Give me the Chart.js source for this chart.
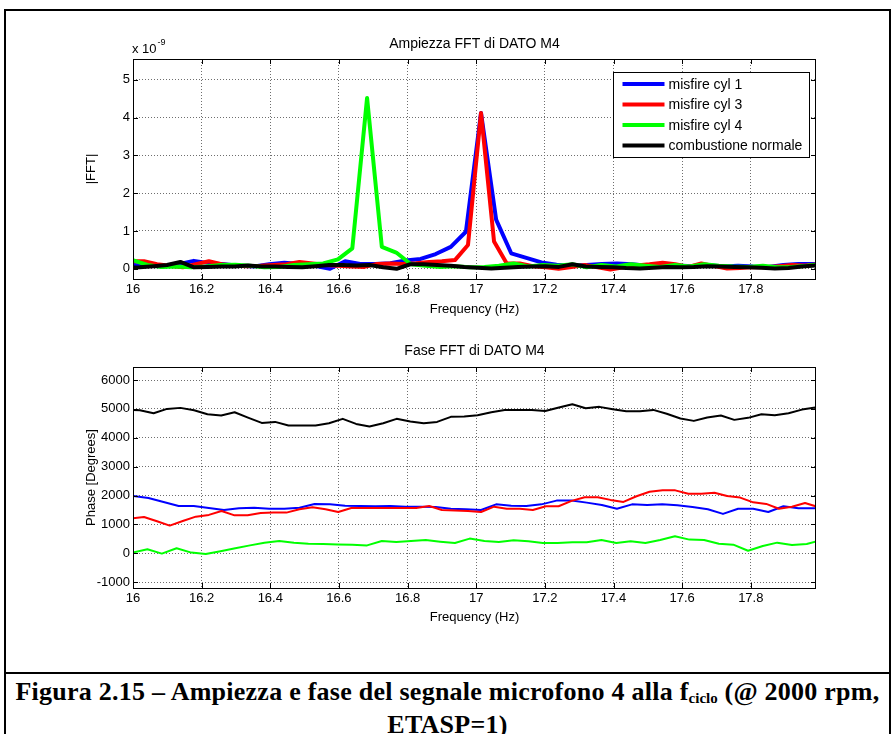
<!DOCTYPE html>
<html>
<head>
<meta charset="utf-8">
<script src="https://cdn.jsdelivr.net/npm/chart.js@4.4.1/dist/chart.umd.min.js"></script>
<style>
  html, body { margin: 0; padding: 0; background: #fff; }
  #page { position: relative; width: 894px; height: 734px; overflow: hidden; background: #fff; }
  #frame { position: absolute; left: 4px; top: 9px; width: 887px; height: 780px; border: 2px solid #000; box-sizing: border-box; }
  #rule { position: absolute; left: 4px; top: 672px; width: 887px; height: 2px; background: #000; }
  canvas { position: absolute; left: 0; }
  #ampChart { top: 0; }
  #phaseChart { top: 320px; }
  #caption {
    position: absolute; left: 6px; width: 883px; top: 675px;
    text-align: center; color: #000; white-space: nowrap;
    font: bold 26px "Liberation Serif", "Times New Roman", serif; line-height: 33px;
    letter-spacing: 0.25px;
  }
  #caption sub { font-size: 15px; line-height: 0; vertical-align: -3px; letter-spacing: 0; }
</style>
</head>
<body>
<div id="page">
  <div id="frame"></div>
  <canvas id="ampChart" width="894" height="320"></canvas>
  <canvas id="phaseChart" width="894" height="310"></canvas>
  <div id="rule"></div>
  <div id="caption">Figura 2.15 – Ampiezza e fase del segnale microfono 4 alla f<sub>ciclo</sub> (@ 2000 rpm,<br>ETASP=1)</div>
</div>
<script>
// FFT bins of each record (Hz) - every record has its own resolution
const freqCyl1 = [16.001, 16.045, 16.089, 16.133, 16.177, 16.221, 16.265, 16.309, 16.353, 16.397,
  16.441, 16.485, 16.529, 16.574, 16.618, 16.662, 16.706, 16.750, 16.794, 16.838,
  16.882, 16.926, 16.970, 17.014, 17.058, 17.102, 17.146, 17.190, 17.234, 17.278,
  17.322, 17.366, 17.410, 17.454, 17.498, 17.542, 17.586, 17.630, 17.675, 17.719,
  17.763, 17.807, 17.851, 17.895, 17.939, 17.983, 18.027];
const freqCyl3 = [15.994, 16.032, 16.070, 16.107, 16.145, 16.183, 16.221, 16.258, 16.296, 16.334,
  16.372, 16.409, 16.447, 16.485, 16.523, 16.561, 16.598, 16.636, 16.674, 16.712,
  16.749, 16.787, 16.825, 16.863, 16.900, 16.938, 16.976, 17.014, 17.052, 17.089,
  17.127, 17.165, 17.203, 17.240, 17.278, 17.316, 17.354, 17.391, 17.429, 17.467,
  17.505, 17.543, 17.580, 17.618, 17.656, 17.694, 17.731, 17.769, 17.807, 17.845,
  17.882, 17.920, 17.958, 17.996, 18.034];
const freqCyl4 = [15.999, 16.042, 16.084, 16.127, 16.170, 16.212, 16.255, 16.298, 16.341, 16.383,
  16.426, 16.469, 16.511, 16.554, 16.597, 16.639, 16.682, 16.725, 16.767, 16.810,
  16.853, 16.895, 16.938, 16.981, 17.024, 17.066, 17.109, 17.152, 17.194, 17.237,
  17.280, 17.322, 17.365, 17.408, 17.450, 17.493, 17.536, 17.579, 17.621, 17.664,
  17.707, 17.749, 17.792, 17.835, 17.877, 17.920, 17.963, 18.005];
const freqNormal = [15.981, 16.020, 16.060, 16.099, 16.138, 16.178, 16.217, 16.257, 16.296, 16.335,
  16.375, 16.414, 16.453, 16.493, 16.532, 16.571, 16.611, 16.650, 16.689, 16.729,
  16.768, 16.808, 16.847, 16.886, 16.926, 16.965, 17.004, 17.044, 17.083, 17.122,
  17.162, 17.201, 17.241, 17.280, 17.319, 17.359, 17.398, 17.437, 17.477, 17.516,
  17.555, 17.595, 17.634, 17.673, 17.713, 17.752, 17.792, 17.831, 17.870, 17.910,
  17.949, 17.988, 18.028];

// |FFT| (x 1e-9)
const ampCyl1 = [0.10, 0.08, 0.06, 0.12, 0.21, 0.15, 0.12, 0.08, 0.06, 0.12,
  0.16, 0.13, 0.08, 0.00, 0.20, 0.13, 0.13, 0.15, 0.22, 0.26,
  0.39, 0.58, 0.98, 4.12, 1.30, 0.41, 0.29, 0.17, 0.11, 0.08,
  0.10, 0.13, 0.14, 0.12, 0.08, 0.06, 0.09, 0.07, 0.10, 0.06,
  0.08, 0.06, 0.05, 0.10, 0.13, 0.13, 0.12];
const ampCyl3 = [0.20, 0.20, 0.12, 0.08, 0.04, 0.12, 0.20, 0.12, 0.08, 0.07,
  0.08, 0.10, 0.12, 0.18, 0.14, 0.10, 0.08, 0.06, 0.05, 0.13,
  0.14, 0.13, 0.15, 0.18, 0.20, 0.23, 0.63, 4.12, 0.72, 0.14,
  0.14, 0.07, 0.04, 0.00, 0.05, 0.10, 0.04, -0.02, 0.04, 0.09,
  0.12, 0.16, 0.12, 0.05, 0.14, 0.07, 0.01, 0.02, 0.05, 0.04,
  0.07, 0.10, 0.09, 0.12, 0.12];
const ampCyl4 = [0.23, 0.10, 0.05, 0.06, 0.04, 0.06, 0.10, 0.11, 0.08, 0.04,
  0.05, 0.10, 0.12, 0.14, 0.25, 0.54, 4.52, 0.58, 0.43, 0.12,
  0.08, 0.05, 0.07, 0.04, 0.05, 0.08, 0.14, 0.06, 0.10, 0.08,
  0.12, 0.04, 0.10, 0.06, 0.12, 0.08, 0.05, 0.10, 0.06, 0.12,
  0.08, 0.06, 0.05, 0.08, 0.04, 0.05, 0.08, 0.12];
const ampNormal = [0.03, 0.04, 0.07, 0.10, 0.18, 0.04, 0.05, 0.06, 0.06, 0.09,
  0.06, 0.06, 0.05, 0.04, 0.07, 0.10, 0.10, 0.09, 0.10, 0.04,
  0.00, 0.12, 0.12, 0.10, 0.08, 0.05, 0.03, 0.01, 0.03, 0.05,
  0.06, 0.07, 0.05, 0.12, 0.06, 0.05, 0.04, 0.02, 0.01, 0.03,
  0.05, 0.04, 0.05, 0.07, 0.06, 0.05, 0.04, 0.03, 0.01, 0.02,
  0.06, 0.09, 0.10];

// phase (degrees, unwrapped)
const phaseCyl1 = [1985, 1915, 1780, 1640, 1640, 1570, 1500, 1560, 1580, 1545,
  1545, 1580, 1710, 1695, 1650, 1640, 1630, 1640, 1615, 1615,
  1605, 1545, 1525, 1500, 1695, 1650, 1640, 1695, 1825, 1825,
  1755, 1675, 1545, 1695, 1675, 1695, 1665, 1605, 1525, 1365,
  1545, 1545, 1430, 1630, 1560, 1560, 1560];
const phaseCyl3 = [1210, 1260, 1110, 960, 1120, 1270, 1330, 1465, 1315, 1315,
  1395, 1410, 1410, 1525, 1595, 1525, 1430, 1570, 1570, 1570,
  1570, 1570, 1570, 1640, 1500, 1480, 1465, 1430, 1615, 1545,
  1545, 1500, 1630, 1630, 1815, 1940, 1940, 1850, 1780, 1975,
  2130, 2180, 2180, 2065, 2065, 2100, 1985, 1930, 1765, 1710,
  1545, 1615, 1745, 1605, 1525];
const phaseCyl4 = [25, 140, -10, 175, 25, -25, 70, 175, 275, 370,
  425, 370, 330, 325, 310, 300, 275, 425, 395, 425,
  460, 405, 360, 510, 425, 395, 450, 415, 360, 360,
  380, 380, 460, 360, 415, 360, 460, 590, 475, 460,
  335, 300, 90, 255, 370, 290, 325, 460];
const phaseNormal = [4970, 4955, 4850, 5000, 5035, 4955, 4815, 4770, 4885, 4700,
  4515, 4550, 4425, 4425, 4425, 4505, 4655, 4480, 4390, 4505,
  4655, 4560, 4505, 4550, 4725, 4735, 4780, 4885, 4965, 4965,
  4965, 4930, 5045, 5160, 5025, 5070, 4990, 4920, 4920, 4965,
  4830, 4665, 4585, 4700, 4770, 4620, 4690, 4815, 4780, 4850,
  4975, 5045, 5070];

const seriesLabels = ['misfire cyl 1', 'misfire cyl 3', 'misfire cyl 4', 'combustione normale'];
const seriesColors = ['#0000ff', '#ff0000', '#00ff00', '#000000'];
const freqTicks = [16, 16.2, 16.4, 16.6, 16.8, 17, 17.2, 17.4, 17.6, 17.8];
const ampTicks = [0, 1, 2, 3, 4, 5];
const phaseTicks = [-1000, 0, 1000, 2000, 3000, 4000, 5000, 6000];

const freqs = [freqCyl1, freqCyl3, freqCyl4, freqNormal];
const FONT = '"Liberation Sans", Arial, sans-serif';

Chart.defaults.font.family = FONT;
Chart.defaults.font.size = 13;
Chart.defaults.color = '#000';

function makeDatasets(values, width) {
  return values.map((vals, i) => ({
    label: seriesLabels[i],
    data: vals.map((v, j) => ({ x: freqs[i][j], y: v })),
    borderColor: seriesColors[i],
    backgroundColor: seriesColors[i],
    borderWidth: width,
    borderJoinStyle: 'round',
    pointRadius: 0,
    tension: 0,
    order: values.length - 1 - i   // last series on top, like hold on
  }));
}

// title, box, inward ticks, exponent label and legend in the style of a MATLAB axes
const matlabAxes = {
  id: 'matlabAxes',
  afterDraw(chart, args, opts) {
    const { ctx, chartArea: a, scales: { x, y } } = chart;
    ctx.save();
    ctx.strokeStyle = '#000';
    ctx.lineWidth = 1;
    ctx.beginPath();
    x.ticks.forEach(t => {
      const px = Math.round(x.getPixelForValue(t.value)) + 0.5;
      ctx.moveTo(px, a.bottom); ctx.lineTo(px, a.bottom - 5);
      ctx.moveTo(px, a.top); ctx.lineTo(px, a.top + 5);
    });
    y.ticks.forEach(t => {
      const py = Math.round(y.getPixelForValue(t.value)) + 0.5;
      ctx.moveTo(a.left, py); ctx.lineTo(a.left + 5, py);
      ctx.moveTo(a.right, py); ctx.lineTo(a.right - 5, py);
    });
    ctx.stroke();
    ctx.strokeRect(Math.round(a.left) + 0.5, Math.round(a.top) + 0.5,
      Math.round(a.width) - 1, Math.round(a.height));

    ctx.fillStyle = '#000';
    ctx.font = '14px ' + FONT;
    ctx.textAlign = 'center';
    ctx.textBaseline = 'middle';
    ctx.fillText(opts.title, (a.left + a.right) / 2, a.top - opts.titleGap);

    if (opts.exponent) {
      ctx.textBaseline = 'alphabetic';
      ctx.textAlign = 'left';
      ctx.font = '13px ' + FONT;
      ctx.fillText('x 10', a.left - 1, a.top - 6);
      const w = ctx.measureText('x 10').width;
      ctx.font = '9px ' + FONT;
      ctx.fillText(opts.exponent, a.left + w, a.top - 14);
    }

    if (opts.legend) {
      const bw = 196, bh = 85;
      const bx = Math.round(a.right - 7 - bw) + 0.5;
      const by = Math.round(a.top + 13) + 0.5;
      ctx.fillStyle = '#fff';
      ctx.fillRect(bx, by, bw, bh);
      ctx.strokeStyle = '#000';
      ctx.lineWidth = 1;
      ctx.strokeRect(bx, by, bw, bh);
      ctx.font = '14px ' + FONT;
      ctx.textBaseline = 'middle';
      ctx.textAlign = 'left';
      seriesLabels.forEach((label, i) => {
        const ry = by + 11.5 + i * 20.5;
        ctx.strokeStyle = seriesColors[i];
        ctx.lineWidth = 4;
        ctx.beginPath();
        ctx.moveTo(bx + 9, ry);
        ctx.lineTo(bx + 51, ry);
        ctx.stroke();
        ctx.fillStyle = '#000';
        ctx.fillText(label, bx + 55, ry + 1);
      });
    }
    ctx.restore();
  }
};

function axesOptions(cfg) {
  return {
    responsive: false,
    animation: false,
    devicePixelRatio: 1,
    layout: { padding: { left: 0, right: 78, top: cfg.top, bottom: 0 } },
    plugins: {
      legend: { display: false },
      title: { display: false },
      tooltip: { enabled: false },
      matlabAxes: { title: cfg.title, titleGap: cfg.titleGap, legend: cfg.legend, exponent: cfg.exponent }
    },
    scales: {
      x: {
        type: 'linear',
        min: 16,
        max: 17.99,
        afterBuildTicks: s => { s.ticks = freqTicks.map(v => ({ value: v })); },
        afterFit: s => { s.height = cfg.xAxisHeight; },
        ticks: { padding: 3, maxRotation: 0, callback: v => String(v) },
        grid: { color: '#6e6e6e', drawTicks: false },
        border: { display: false, dash: [1, 2] },
        title: { display: true, text: 'Frequency (Hz)', padding: { top: 0, bottom: cfg.xTitlePad } }
      },
      y: {
        type: 'linear',
        min: cfg.yMin,
        max: cfg.yMax,
        afterBuildTicks: s => { s.ticks = cfg.yTicks.map(v => ({ value: v })); },
        afterFit: s => { s.width = 133; },
        ticks: { padding: 3, callback: v => String(v) },
        grid: { color: '#6e6e6e', drawTicks: false },
        border: { display: false, dash: [1, 2] },
        title: { display: true, text: cfg.yTitle, padding: { top: 84, bottom: 0 } }
      }
    }
  };
}

new Chart(document.getElementById('ampChart'), {
  type: 'line',
  data: { datasets: makeDatasets([ampCyl1, ampCyl3, ampCyl4, ampNormal], 4) },
  options: axesOptions({
    title: 'Ampiezza FFT di DATO M4',
    top: 59, titleGap: 15,
    yTitle: '|FFT|',
    yMin: -0.27, yMax: 5.55, yTicks: ampTicks,
    xAxisHeight: 41, xTitlePad: 3,
    legend: true, exponent: '-9'
  }),
  plugins: [matlabAxes]
});

new Chart(document.getElementById('phaseChart'), {
  type: 'line',
  data: { datasets: makeDatasets([phaseCyl1, phaseCyl3, phaseCyl4, phaseNormal], 2) },
  options: axesOptions({
    title: 'Fase FFT di DATO M4',
    top: 47, titleGap: 16,
    yTitle: 'Phase [Degrees]',
    yMin: -1200, yMax: 6450, yTicks: phaseTicks,
    xAxisHeight: 42, xTitlePad: 5,
    legend: false, exponent: null
  }),
  plugins: [matlabAxes]
});
</script>
</body>
</html>
